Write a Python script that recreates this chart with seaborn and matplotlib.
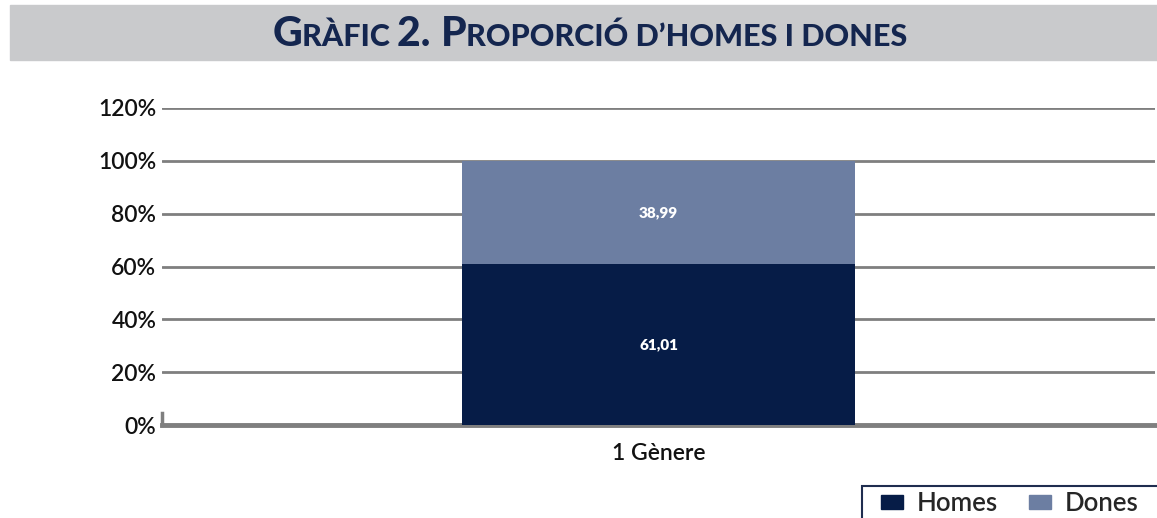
import matplotlib
matplotlib.use("Agg")
import matplotlib.pyplot as plt
import matplotlib.patches as mpatches
import seaborn as sns
import pandas as pd

categories = ["1 Gènere"]
homes = [61.01]
dones = [38.99]
yticks = [0, 20, 40, 60, 80, 100, 120]
ytick_labels = ["0%", "20%", "40%", "60%", "80%", "100%", "120%"]
series_names = ["Homes", "Dones"]
value_labels_homes = ["61,01"]
value_labels_dones = ["38,99"]

C_HOMES = "#061c47"
C_DONES = "#6c7ea2"
GRID = "#7f7f7f"
TITLE_C = "#14264f"

sns.set_theme(style="white")
FONT = ["Lato", "DejaVu Sans"]
plt.rcParams["font.family"] = FONT

W, H = 1157, 518
fig = plt.figure(figsize=(W / 100, H / 100), dpi=100)

# title band
fig.patches.append(mpatches.Rectangle((10 / W, 1 - 60 / H), 1 - 10 / W, 55 / H,
                                      transform=fig.transFigure, color="#c9cacc", zorder=0))

ax = fig.add_axes([162 / W, 1 - 425 / H, (1155 - 162) / W, (425 - 108) / H])

df = pd.DataFrame({"cat": categories, "homes": homes, "dones": dones})
df["total"] = df["homes"] + df["dones"]

sns.barplot(data=df, x="cat", y="total", color=C_DONES, width=0.395, ax=ax,
            saturation=1, zorder=3, linewidth=0)
sns.barplot(data=df, x="cat", y="homes", color=C_HOMES, width=0.395, ax=ax,
            saturation=1, zorder=3, linewidth=0)

ax.set_xlim(-0.5, 0.5)
ax.set_ylim(0, 120)
ax.set_yticks(yticks)
ax.set_yticklabels(ytick_labels)
ax.yaxis.grid(True, color=GRID, linewidth=2)
ax.set_axisbelow(True)
ax.set_xlabel("")
ax.set_ylabel("")
for s in ["top", "right"]:
    ax.spines[s].set_visible(False)
ax.spines["bottom"].set_color(GRID)
ax.spines["bottom"].set_linewidth(3.5)
ax.spines["left"].set_color(GRID)
ax.spines["left"].set_linewidth(2.5)
ax.spines["left"].set_bounds(0, 4.5)
ax.tick_params(axis="y", length=0, pad=4, labelsize=16.5, labelcolor="#111111")
ax.tick_params(axis="x", length=0, pad=13, labelsize=16.5, labelcolor="#111111")
for t in ax.get_yticklabels() + ax.get_xticklabels():
    t.set_fontweight("semibold")

# value labels
for i, (h, d) in enumerate(zip(homes, dones)):
    ax.text(i, h / 2, value_labels_homes[i], color="white", ha="center", va="center",
            fontsize=11, fontweight="heavy", zorder=5)
    ax.text(i, h + d / 2, value_labels_dones[i], color="white", ha="center", va="center",
            fontsize=11, fontweight="heavy", zorder=5)

# legend frame (extends past the figure edge, as in the reference)
fig.patches.append(mpatches.Rectangle((862 / W, -0.05), 0.3, (1 - 486 / H) + 0.05,
                                      transform=fig.transFigure, facecolor="white",
                                      edgecolor="#1f2d4f", linewidth=1.5, zorder=1))
handles = [mpatches.Patch(color=C_HOMES, label=series_names[0]),
           mpatches.Patch(color=C_DONES, label=series_names[1])]
leg = fig.legend(handles=handles, loc="upper left", bbox_to_anchor=(881 / W, 1 - 491 / H),
                 ncol=2, frameon=False, fontsize=18.5, handlelength=0.85, handleheight=0.5,
                 handletextpad=0.55, columnspacing=1.2, borderpad=0, borderaxespad=0)
leg.set_zorder(2)
for t in leg.get_texts():
    t.set_fontweight("semibold")

# small-caps title
segments = [("G", 29.5), ("RÀFIC ", 22), ("2. ", 29.5), ("P", 29.5), ("ROPORCIÓ D’HOMES I DONES", 22)]
renderer = fig.canvas.get_renderer()
texts = []
widths = []
for s, fs in segments:
    t = fig.text(0, 1 - 46 / H, s, fontsize=fs, fontweight="black", color=TITLE_C,
                 va="baseline", ha="left")
    bb = t.get_window_extent(renderer=renderer)
    texts.append(t)
    widths.append(bb.width)
total = sum(widths)
x = 590 - total / 2
for t, w in zip(texts, widths):
    t.set_x(x / W)
    x += w

fig.savefig("out.png", dpi=100)
